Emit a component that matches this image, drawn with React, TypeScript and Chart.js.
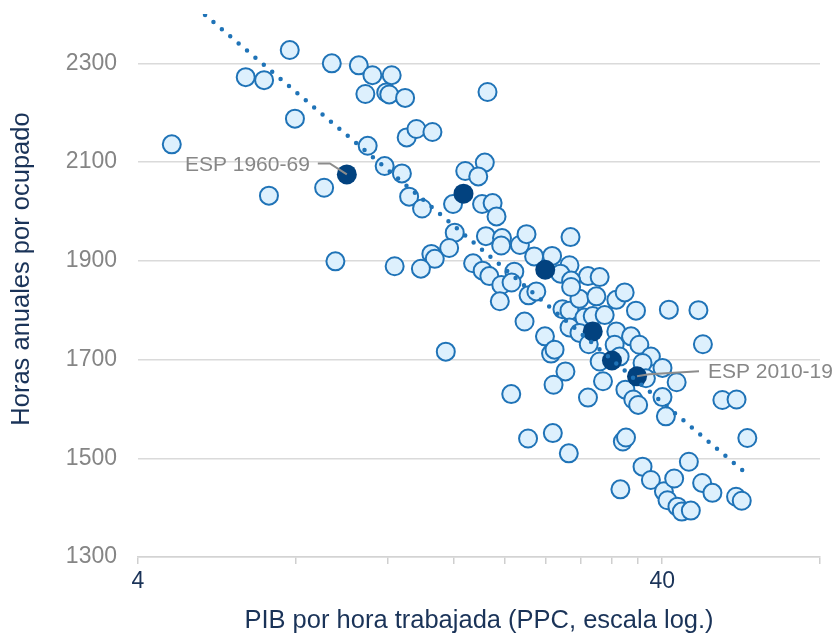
import React, { useEffect, useRef } from "react";
import { Chart, registerables } from "chart.js";

Chart.register(...registerables);

// PIB por hora trabajada (PPC) – países/décadas
const gdpPerHour = [
  4.64, 6.42, 6.96, 7.79, 7.97, 7.11, 9.37, 10.55, 11.2, 12.19,
  10.86, 11.9, 12.06, 12.93, 13.02, 13.59, 14.58, 10.97, 11.82, 12.75,
  9.06, 13.16, 13.93, 16.08, 15.69, 14.51, 14.73, 16.84, 18.35, 17.83,
  15.96, 9.52, 12.35, 13.86, 17.43, 18.57, 18.13, 18.99, 19.32, 18.44,
  19.79, 19.72, 21.41, 22.04, 22.79, 24.66, 26.74, 26.62, 28.87, 30.39,
  18.18, 18.72, 19.73, 20.89, 20.64, 19.6, 22.24, 23.01, 21.85, 23.9,
  24.55, 24.93, 26.15, 24.82, 20.61, 15.46, 22.19, 24.74, 26.54, 25.81,
  26.62, 27.81, 29.96, 28.43, 29.48, 31.07, 26.62, 27.81, 32.7, 33.92,
  35.65, 28.97, 30.39, 32.7, 32.46, 34.88, 36.18, 33.18, 38.06, 40.05,
  36.69, 37.24, 30.84, 28.87, 34.03, 35.23, 35.99, 40.05, 42.62, 40.65,
  41.19, 46.9, 47.83, 52.1, 55.45, 58.14, 33.65, 34.12, 33.29, 36.69,
  38.06, 40.3, 40.94, 42.16, 44.97, 42.77, 43.6, 45.36, 47.67, 49.87,
  55.33, 56.73, 25.58, 26.81, 26.81,
];
// Horas anuales por ocupado
const hoursPerWorker = [
  2136, 2272, 2266, 2327, 2188, 2032, 2300, 2296, 2276, 2276,
  2238, 2241, 2237, 2230, 2150, 2167, 2161, 2133, 2092, 2077,
  2048, 2030, 2006, 1957, 1926, 1914, 1904, 2082, 2099, 2071,
  2015, 1899, 1889, 1884, 1895, 2242, 2015, 2017, 1990, 1950,
  1946, 1931, 1932, 1954, 1909, 1910, 1948, 1891, 1869, 1867,
  1880, 1869, 1851, 1878, 1856, 1818, 1830, 1838, 1777, 1747,
  1712, 1720, 1676, 1649, 1630, 1716, 1540, 1551, 1510, 1802,
  1799, 1823, 1828, 1785, 1788, 1790, 1765, 1754, 1821, 1836,
  1799, 1731, 1696, 1757, 1730, 1747, 1730, 1706, 1706, 1683,
  1693, 1662, 1656, 1623, 1639, 1619, 1608, 1624, 1654, 1585,
  1801, 1800, 1731, 1618, 1619, 1541, 1534, 1542, 1437, 1483,
  1456, 1433, 1415, 1459, 1493, 1402, 1392, 1394, 1450, 1430,
  1422, 1414, 1874, 1860, 1847,
];

// España por décadas (1960-69 … 2010-19)
const espDecades = ["ESP 1960-69", "ESP 1970-79", "ESP 1980-89", "ESP 1990-99", "ESP 2000-09", "ESP 2010-19"];
const espGdp = [10.01, 16.71, 23.93, 29.48, 32.08, 35.81];
const espHours = [2075, 2036, 1882, 1757, 1698, 1666];
const labelledDecades = ["ESP 1960-69", "ESP 2010-19"];

// Tendencia (ajuste log-lineal)
const trendX = [5.37, 57.73];
const trendY = [2398, 1470];

// Ejes
const xTickValues = [4, 8, 12, 16, 20, 24, 28, 32, 36, 40, 80];
const xTickLabels = [4, 40];
const yTickValues = [1300, 1500, 1700, 1900, 2100, 2300];
const xTitle = "PIB por hora trabajada (PPC, escala log.)";
const yTitle = "Horas anuales por ocupado";

const FONT = '"Liberation Sans", Arial, sans-serif';
const NAVY = "#1a3358";
const GREY_TXT = "#878787";
const BLUE = "#1f73b7";

const overlayPlugin = {
  id: "overlay",
  afterDatasetsDraw(chart: any) {
    const ctx = chart.ctx as CanvasRenderingContext2D;
    const xs = chart.scales.x;
    const ys = chart.scales.y;
    ctx.save();
    ctx.strokeStyle = "#8c8c8c";
    ctx.lineWidth = 2;
    ctx.fillStyle = GREY_TXT;
    ctx.font = `21px ${FONT}`;
    ctx.textBaseline = "middle";
    labelledDecades.forEach((lab) => {
      const i = espDecades.indexOf(lab);
      const px = xs.getPixelForValue(espGdp[i]);
      const py = ys.getPixelForValue(espHours[i]);
      ctx.beginPath();
      if (i === 0) {
        ctx.moveTo(px, py);
        ctx.lineTo(px - 17, py - 11);
        ctx.lineTo(px - 29, py - 11);
        ctx.stroke();
        ctx.textAlign = "right";
        ctx.fillText(lab, px - 37, py - 9);
      } else {
        ctx.moveTo(px, py);
        ctx.lineTo(px + 12, py - 2);
        ctx.lineTo(px + 62, py - 5);
        ctx.stroke();
        ctx.textAlign = "left";
        ctx.fillText(lab, px + 71, py - 4);
      }
    });
    ctx.restore();
  },
  afterDraw(chart: any) {
    const ctx = chart.ctx as CanvasRenderingContext2D;
    const ca = chart.chartArea;
    ctx.save();
    ctx.fillStyle = NAVY;
    ctx.font = `25.5px ${FONT}`;
    ctx.textAlign = "center";
    ctx.textBaseline = "middle";
    ctx.fillText(xTitle, (ca.left + ca.right) / 2, 621);
    ctx.translate(22, 269);
    ctx.rotate(-Math.PI / 2);
    ctx.fillText(yTitle, 0, 0);
    ctx.restore();
  },
};

export default function App() {
  const ref = useRef<HTMLCanvasElement | null>(null);
  useEffect(() => {
    if (!ref.current) return;
    const chart = new Chart(ref.current, {
      type: "scatter",
      data: {
        datasets: [
          {
            label: "Tendencia",
            data: trendX.map((x, i) => ({ x, y: trendY[i] })),
            showLine: true,
            borderColor: BLUE,
            borderWidth: 4.5,
            borderDash: [0, 11],
            borderCapStyle: "round",
            pointRadius: 0,
            order: 0,
          } as any,
          {
            label: "España",
            data: espGdp.map((x, i) => ({ x, y: espHours[i] })),
            backgroundColor: "#02427f",
            borderColor: "#02427f",
            borderWidth: 0,
            pointRadius: 10,
            order: 1,
          },
          {
            label: "Países",
            data: gdpPerHour.map((x, i) => ({ x, y: hoursPerWorker[i] })),
            backgroundColor: "#ddf0fd",
            borderColor: BLUE,
            borderWidth: 2,
            pointRadius: 9,
            order: 2,
          },
        ],
      },
      options: {
        responsive: false,
        animation: false,
        events: [],
        layout: { padding: { top: 14, right: 16, left: 0, bottom: 0 } },
        plugins: { legend: { display: false }, tooltip: { enabled: false } },
        scales: {
          x: {
            type: "logarithmic",
            min: 4,
            max: 80,
            afterBuildTicks: (s: any) => {
              s.ticks = xTickValues.map((v) => ({ value: v }));
            },
            afterFit: (s: any) => {
              s.height = 81;
              s.paddingLeft = 0;
              s.paddingRight = 0;
              s.paddingTop = 0;
              s.paddingBottom = 0;
            },
            ticks: {
              autoSkip: false,
              maxRotation: 0,
              padding: 4,
              color: NAVY,
              font: { family: FONT, size: 23 },
              callback: (v: any) => (xTickLabels.includes(Number(v)) ? String(v) : ""),
            },
            grid: { drawOnChartArea: false, drawTicks: true, tickLength: 7, color: "#cfcfcf", lineWidth: 1.5 },
            border: { display: true, color: "#d3d3d3", width: 1.5 },
          },
          y: {
            type: "linear",
            min: 1300,
            max: 2400,
            afterBuildTicks: (s: any) => {
              s.ticks = yTickValues.map((v) => ({ value: v }));
            },
            afterFit: (s: any) => {
              s.width = 138;
              s.paddingLeft = 0;
              s.paddingRight = 0;
              s.paddingTop = 0;
              s.paddingBottom = 0;
            },
            ticks: {
              padding: 21,
              color: "#858585",
              font: { family: FONT, size: 23 },
              callback: (v: any) => String(v),
            },
            grid: { drawTicks: false, color: "#dadada", lineWidth: 1.5 },
            border: { display: false },
          },
        },
      },
      plugins: [overlayPlugin],
    });
    return () => chart.destroy();
  }, []);
  return (
    <canvas
      ref={ref}
      width={836}
      height={638}
      style={{ position: "fixed", left: 0, top: 0, width: 836, height: 638 }}
    />
  );
}
